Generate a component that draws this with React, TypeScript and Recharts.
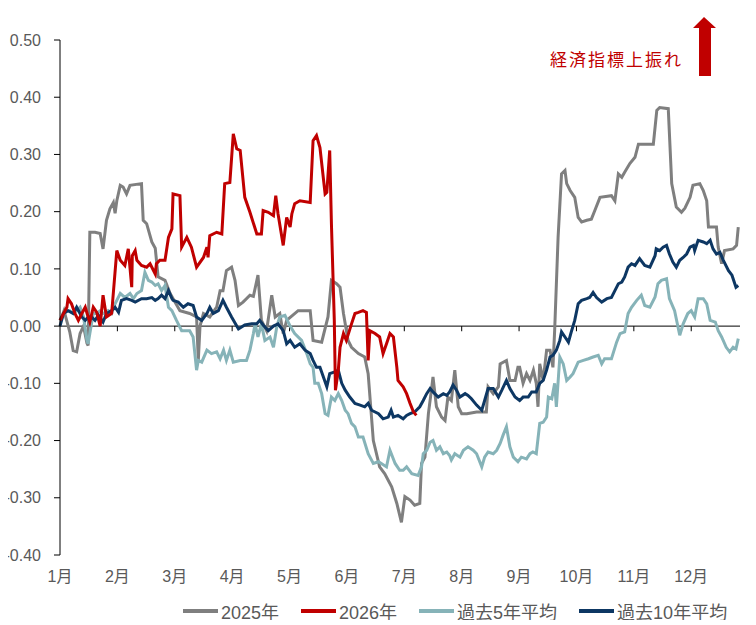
import { Line, LineChart, ReferenceLine, XAxis, YAxis } from 'recharts'

// x = month position (1 = 1月, 12 = 12月), y = surprise index
const s2025: [number, number][] = [
  [1.0, 0.01], [1.03, 0.016], [1.07, 0.027], [1.17, -0.01], [1.23, -0.043], [1.29, -0.045],
  [1.35, -0.013], [1.41, 0.0], [1.47, -0.03], [1.49, -0.034], [1.52, 0.164], [1.61, 0.164],
  [1.7, 0.162], [1.75, 0.135], [1.81, 0.185], [1.87, 0.205], [1.93, 0.216], [1.96, 0.197],
  [1.99, 0.219], [2.05, 0.246], [2.1, 0.243], [2.16, 0.231], [2.22, 0.246], [2.42, 0.249],
  [2.45, 0.185], [2.51, 0.179], [2.6, 0.147], [2.66, 0.136], [2.71, 0.086], [2.83, 0.08],
  [2.92, 0.057], [3.09, 0.027], [3.26, 0.022], [3.38, 0.016], [3.41, -0.06], [3.44, 0.0],
  [3.5, 0.022], [3.61, 0.016], [3.73, 0.033], [3.79, 0.062], [3.84, 0.062], [3.9, 0.097],
  [3.99, 0.103], [4.05, 0.08], [4.11, 0.036], [4.19, 0.042], [4.31, 0.054], [4.37, 0.052],
  [4.45, 0.089], [4.51, 0.01], [4.6, -0.008], [4.69, 0.054], [4.75, 0.016], [4.83, 0.022],
  [4.89, -0.013], [4.95, 0.01], [5.15, 0.027], [5.36, 0.027], [5.41, -0.025], [5.56, -0.028],
  [5.67, 0.016], [5.73, 0.08], [5.82, 0.074], [5.88, 0.068], [5.94, 0.022], [6.02, -0.025],
  [6.08, -0.037], [6.2, -0.048], [6.31, -0.054], [6.37, -0.083], [6.46, -0.2], [6.57, -0.246],
  [6.66, -0.258], [6.78, -0.281], [6.87, -0.31], [6.95, -0.343], [7.01, -0.298], [7.1, -0.304],
  [7.18, -0.313], [7.27, -0.31], [7.3, -0.24], [7.36, -0.229], [7.42, -0.153], [7.48, -0.106],
  [7.5, -0.089], [7.56, -0.141], [7.65, -0.159], [7.71, -0.165], [7.76, -0.124], [7.82, -0.13],
  [7.88, -0.077], [7.94, -0.141], [8.0, -0.153], [8.09, -0.153], [8.26, -0.15], [8.43, -0.15],
  [8.46, -0.106], [8.55, -0.118], [8.64, -0.106], [8.67, -0.066], [8.78, -0.06], [8.84, -0.095],
  [8.93, -0.095], [8.98, -0.072], [9.01, -0.072], [9.07, -0.1], [9.13, -0.083], [9.19, -0.095],
  [9.25, -0.077], [9.3, -0.1], [9.33, -0.141], [9.36, -0.066], [9.42, -0.095], [9.48, -0.042],
  [9.54, -0.042], [9.59, -0.072], [9.62, -0.008], [9.68, 0.155], [9.74, 0.266], [9.8, 0.272],
  [9.83, 0.249], [9.89, 0.237], [9.97, 0.225], [10.03, 0.19], [10.09, 0.182], [10.18, 0.185],
  [10.26, 0.187], [10.32, 0.202], [10.41, 0.225], [10.61, 0.228], [10.67, 0.219], [10.73, 0.266],
  [10.79, 0.26], [10.84, 0.269], [10.93, 0.284], [11.02, 0.295], [11.08, 0.318], [11.34, 0.318],
  [11.4, 0.377], [11.45, 0.382], [11.6, 0.38], [11.66, 0.249], [11.74, 0.208], [11.83, 0.199],
  [11.89, 0.206], [11.98, 0.225], [12.03, 0.246], [12.15, 0.249], [12.21, 0.237], [12.27, 0.219],
  [12.3, 0.173], [12.44, 0.173], [12.47, 0.138], [12.53, 0.109], [12.58, 0.132], [12.73, 0.135],
  [12.79, 0.141], [12.82, 0.173],
]

const s2026: [number, number][] = [
  [1.0, 0.01], [1.03, 0.016], [1.12, 0.033], [1.14, 0.048], [1.2, 0.039], [1.26, 0.022],
  [1.32, 0.01], [1.38, 0.022], [1.44, 0.033], [1.49, 0.016], [1.52, 0.007], [1.58, 0.033],
  [1.64, 0.024], [1.7, 0.0], [1.75, 0.054], [1.81, 0.016], [1.9, 0.022], [1.99, 0.132],
  [2.05, 0.115], [2.13, 0.106], [2.19, 0.135], [2.25, 0.068], [2.26, 0.123], [2.31, 0.132],
  [2.34, 0.115], [2.42, 0.106], [2.51, 0.103], [2.57, 0.109], [2.66, 0.091], [2.68, 0.109],
  [2.74, 0.115], [2.83, 0.115], [2.89, 0.155], [2.95, 0.17], [2.97, 0.231], [3.09, 0.228],
  [3.12, 0.138], [3.21, 0.155], [3.29, 0.138], [3.38, 0.103], [3.5, 0.12], [3.56, 0.138],
  [3.58, 0.12], [3.61, 0.158], [3.73, 0.164], [3.82, 0.161], [3.87, 0.249], [3.96, 0.251],
  [4.02, 0.336], [4.08, 0.31], [4.14, 0.307], [4.22, 0.225], [4.31, 0.199], [4.43, 0.161],
  [4.51, 0.161], [4.54, 0.202], [4.63, 0.199], [4.72, 0.193], [4.76, 0.228], [4.8, 0.196],
  [4.89, 0.141], [4.95, 0.19], [5.01, 0.173], [5.04, 0.196], [5.09, 0.214], [5.18, 0.219],
  [5.36, 0.216], [5.41, 0.324], [5.47, 0.333], [5.53, 0.312], [5.62, 0.231], [5.65, 0.234],
  [5.7, 0.307], [5.73, 0.179], [5.78, 0.01], [5.8, -0.112], [5.85, -0.077], [5.88, -0.037],
  [5.94, -0.013], [5.99, -0.025], [6.08, 0.004], [6.14, 0.022], [6.2, 0.024], [6.28, 0.027],
  [6.34, 0.024], [6.37, -0.06], [6.4, -0.008], [6.49, -0.013], [6.57, -0.019], [6.63, -0.048],
  [6.69, -0.031], [6.75, -0.013], [6.81, -0.019], [6.87, -0.072], [6.89, -0.095], [6.98, -0.106],
  [7.04, -0.118], [7.1, -0.135], [7.16, -0.15], [7.21, -0.156],
]

const avg5: [number, number][] = [
  [1.0, 0.01], [1.03, 0.013], [1.09, 0.027], [1.17, 0.027], [1.23, 0.022], [1.29, 0.027],
  [1.35, 0.033], [1.41, 0.016], [1.47, -0.025], [1.49, -0.031], [1.52, -0.013], [1.58, 0.022],
  [1.64, 0.022], [1.7, 0.027], [1.75, 0.022], [1.84, 0.027], [1.9, 0.022], [1.96, 0.039],
  [2.05, 0.057], [2.13, 0.05], [2.22, 0.057], [2.28, 0.048], [2.34, 0.057], [2.42, 0.062],
  [2.48, 0.094], [2.54, 0.08], [2.6, 0.077], [2.66, 0.071], [2.71, 0.074], [2.77, 0.062],
  [2.83, 0.071], [2.89, 0.033], [2.95, 0.027], [3.03, 0.01], [3.12, -0.008], [3.26, -0.008],
  [3.32, -0.019], [3.38, -0.077], [3.41, -0.06], [3.47, -0.063], [3.56, -0.042], [3.64, -0.048],
  [3.73, -0.045], [3.79, -0.057], [3.85, -0.042], [3.9, -0.06], [3.96, -0.042], [4.02, -0.063],
  [4.14, -0.06], [4.25, -0.06], [4.31, -0.042], [4.37, -0.013], [4.4, 0.004], [4.45, -0.019],
  [4.51, 0.004], [4.57, -0.025], [4.66, -0.019], [4.72, -0.037], [4.78, 0.0], [4.83, 0.016],
  [4.92, 0.019], [5.01, 0.0], [5.09, -0.013], [5.21, -0.025], [5.3, -0.048], [5.36, -0.066],
  [5.41, -0.072], [5.44, -0.1], [5.5, -0.1], [5.56, -0.118], [5.62, -0.153], [5.67, -0.156],
  [5.73, -0.124], [5.79, -0.13], [5.85, -0.118], [5.91, -0.13], [5.97, -0.147], [6.02, -0.153],
  [6.08, -0.17], [6.14, -0.176], [6.2, -0.194], [6.28, -0.194], [6.37, -0.223], [6.46, -0.24],
  [6.55, -0.237], [6.6, -0.24], [6.69, -0.246], [6.75, -0.217], [6.84, -0.24], [6.92, -0.252],
  [6.98, -0.252], [7.04, -0.246], [7.13, -0.258], [7.24, -0.261], [7.3, -0.246], [7.33, -0.223],
  [7.39, -0.217], [7.45, -0.203], [7.5, -0.2], [7.56, -0.217], [7.62, -0.211], [7.68, -0.223],
  [7.74, -0.22], [7.79, -0.226], [7.82, -0.234], [7.88, -0.223], [7.97, -0.229], [8.03, -0.217],
  [8.11, -0.211], [8.2, -0.217], [8.26, -0.223], [8.35, -0.246], [8.4, -0.229], [8.46, -0.22],
  [8.55, -0.223], [8.61, -0.217], [8.67, -0.205], [8.72, -0.191], [8.78, -0.176], [8.84, -0.211],
  [8.9, -0.229], [8.98, -0.237], [9.04, -0.229], [9.13, -0.232], [9.19, -0.223], [9.24, -0.22],
  [9.3, -0.223], [9.36, -0.17], [9.42, -0.168], [9.48, -0.159], [9.51, -0.124], [9.57, -0.127],
  [9.62, -0.1], [9.65, -0.141], [9.71, -0.054], [9.77, -0.066], [9.83, -0.095], [9.89, -0.089],
  [9.94, -0.083], [10.03, -0.063], [10.12, -0.06], [10.21, -0.057], [10.29, -0.054], [10.38, -0.051],
  [10.44, -0.066], [10.49, -0.057], [10.61, -0.057], [10.7, -0.028], [10.76, -0.013], [10.84, -0.01],
  [10.9, 0.022], [10.96, 0.033], [11.05, 0.045], [11.13, 0.054], [11.19, 0.036], [11.28, 0.033],
  [11.37, 0.051], [11.42, 0.074], [11.48, 0.08], [11.57, 0.083], [11.62, 0.048], [11.71, 0.027],
  [11.8, -0.016], [11.86, 0.004], [11.94, 0.022], [12.0, 0.027], [12.06, 0.016], [12.12, 0.048],
  [12.21, 0.048], [12.27, 0.039], [12.33, 0.01], [12.42, 0.007], [12.47, -0.008], [12.53, -0.019],
  [12.61, -0.037], [12.67, -0.045], [12.73, -0.037], [12.78, -0.04], [12.82, -0.022],
]

const avg10: [number, number][] = [
  [1.0, 0.0], [1.06, 0.022], [1.14, 0.027], [1.23, 0.022], [1.29, 0.033], [1.38, 0.016],
  [1.44, 0.01], [1.49, 0.016], [1.55, 0.016], [1.61, 0.01], [1.67, 0.019], [1.75, 0.007],
  [1.81, 0.022], [1.9, 0.027], [1.96, 0.033], [2.02, 0.024], [2.07, 0.045], [2.16, 0.048],
  [2.25, 0.045], [2.31, 0.042], [2.42, 0.048], [2.51, 0.048], [2.6, 0.05], [2.66, 0.045],
  [2.71, 0.048], [2.77, 0.054], [2.83, 0.048], [2.89, 0.062], [2.95, 0.048], [2.97, 0.045],
  [3.06, 0.042], [3.15, 0.033], [3.23, 0.039], [3.32, 0.036], [3.38, 0.016], [3.47, 0.01],
  [3.56, 0.022], [3.61, 0.033], [3.67, 0.022], [3.76, 0.027], [3.84, 0.045], [3.9, 0.033],
  [3.99, 0.016], [4.08, 0.0], [4.11, -0.005], [4.22, 0.002], [4.34, 0.004], [4.43, 0.004],
  [4.48, 0.01], [4.54, 0.002], [4.63, -0.008], [4.72, 0.0], [4.8, 0.004], [4.89, -0.008],
  [4.95, -0.031], [5.01, -0.025], [5.09, -0.037], [5.18, -0.031], [5.27, -0.042], [5.36, -0.048],
  [5.41, -0.06], [5.47, -0.072], [5.53, -0.072], [5.59, -0.089], [5.65, -0.106], [5.7, -0.083],
  [5.79, -0.08], [5.85, -0.077], [5.91, -0.1], [5.97, -0.112], [6.05, -0.124], [6.14, -0.135],
  [6.23, -0.138], [6.31, -0.141], [6.37, -0.135], [6.43, -0.147], [6.55, -0.153], [6.63, -0.162],
  [6.72, -0.159], [6.77, -0.147], [6.81, -0.159], [6.89, -0.156], [6.98, -0.162], [7.04, -0.156],
  [7.1, -0.153], [7.18, -0.15], [7.27, -0.141], [7.33, -0.13], [7.39, -0.118], [7.45, -0.109],
  [7.5, -0.115], [7.59, -0.124], [7.68, -0.118], [7.74, -0.121], [7.79, -0.115], [7.85, -0.103],
  [7.91, -0.112], [7.97, -0.124], [8.06, -0.118], [8.11, -0.121], [8.17, -0.127], [8.26, -0.138],
  [8.35, -0.147], [8.4, -0.13], [8.46, -0.109], [8.55, -0.109], [8.64, -0.124], [8.7, -0.112],
  [8.78, -0.095], [8.84, -0.109], [8.93, -0.124], [9.01, -0.13], [9.07, -0.124], [9.16, -0.124],
  [9.22, -0.115], [9.3, -0.115], [9.36, -0.1], [9.42, -0.095], [9.48, -0.077], [9.54, -0.054],
  [9.59, -0.051], [9.65, -0.042], [9.71, -0.025], [9.74, -0.01], [9.8, -0.019], [9.86, -0.028],
  [9.91, -0.01], [9.97, 0.01], [10.03, 0.039], [10.09, 0.045], [10.18, 0.048], [10.23, 0.05],
  [10.29, 0.059], [10.35, 0.05], [10.44, 0.042], [10.53, 0.048], [10.61, 0.05], [10.67, 0.062],
  [10.73, 0.074], [10.79, 0.077], [10.84, 0.086], [10.9, 0.103], [10.96, 0.109], [11.02, 0.106],
  [11.1, 0.118], [11.19, 0.106], [11.28, 0.103], [11.37, 0.123], [11.39, 0.135], [11.45, 0.132],
  [11.51, 0.138], [11.57, 0.141], [11.62, 0.126], [11.68, 0.112], [11.74, 0.103], [11.8, 0.115],
  [11.86, 0.12], [11.92, 0.126], [11.98, 0.138], [12.04, 0.141], [12.06, 0.132], [12.12, 0.15],
  [12.21, 0.147], [12.27, 0.144], [12.33, 0.15], [12.38, 0.135], [12.44, 0.126], [12.5, 0.129],
  [12.56, 0.115], [12.65, 0.097], [12.71, 0.089], [12.78, 0.068], [12.82, 0.071],
]

const monthTicks = [1, 2, 3, 4, 5, 6, 7, 8, 9, 10, 11, 12]
const yTicks = [-0.4, -0.3, -0.2, -0.1, 0, 0.1, 0.2, 0.3, 0.4, 0.5]

const series = [
  { name: '2025年', color: '#7f7f7f', points: s2025 },
  { name: '過去5年平均', color: '#86b3b8', points: avg5 },
  { name: '過去10年平均', color: '#0d3763', points: avg10 },
  { name: '2026年', color: '#c00000', points: s2026 },
]
const legendOrder = ['2025年', '2026年', '過去5年平均', '過去10年平均']

const FONT = '"Liberation Sans", Arial, "Noto Sans CJK JP", sans-serif'
const TEXT = '#595959'

const toRows = (pts: [number, number][]) => pts.map(([x, v]) => ({ x, v }))

export default function App() {
  return (
    <div style={{ position: 'relative', width: 756, height: 612, marginLeft: -8, fontFamily: FONT }}>
      <LineChart width={756} height={612} margin={{ top: 32, right: 16, bottom: 35, left: 0 }}>
        <XAxis
          dataKey="x"
          type="number"
          domain={[1, 12.85]}
          ticks={monthTicks}
          tickFormatter={(m) => `${m}月`}
          axisLine={false}
          tickLine={false}
          tickMargin={10}
          tick={{ fill: TEXT, fontSize: 16 }}
          height={30}
        />
        <YAxis
          type="number"
          domain={[-0.4, 0.5]}
          ticks={yTicks}
          tickFormatter={(v) => Number(v).toFixed(2)}
          width={60}
          stroke="#000"
          tickSize={6}
          tickMargin={13}
          tick={{ fill: TEXT, fontSize: 16 }}
        />
        <ReferenceLine y={0} stroke="#000" strokeWidth={1} />
        {monthTicks.slice(1).map((m) => (
          <ReferenceLine
            key={m}
            segment={[
              { x: m, y: 0 },
              { x: m, y: -0.009 },
            ]}
            stroke="#000"
          />
        ))}
        {series.map((s) => (
          <Line
            key={s.name}
            data={toRows(s.points)}
            dataKey="v"
            name={s.name}
            type="linear"
            stroke={s.color}
            strokeWidth={3}
            dot={false}
            isAnimationActive={false}
          />
        ))}
      </LineChart>

      {/* annotation */}
      <div
        style={{
          position: 'absolute',
          left: 550,
          top: 38,
          color: '#c00000',
          fontSize: 17,
          letterSpacing: 2,
          whiteSpace: 'nowrap',
        }}
      >
        経済指標上振れ
      </div>
      <svg style={{ position: 'absolute', left: 0, top: 0 }} width={756} height={80}>
        <polygon points="704,9 693,20 699,20 699,68 711,68 711,20 716,20" fill="#c00000" />
      </svg>

      {/* legend */}
      <div
        style={{
          position: 'absolute',
          left: 183,
          top: 590,
          display: 'flex',
          gap: 22,
          fontSize: 18,
          color: TEXT,
          whiteSpace: 'nowrap',
        }}
      >
        {legendOrder.map((n) => {
          const s = series.find((x) => x.name === n)!
          return (
            <div key={n} style={{ display: 'flex', alignItems: 'center' }}>
              <span style={{ width: 35, height: 4, background: s.color, marginRight: 3 }} />
              <span>{n}</span>
            </div>
          )
        })}
      </div>
    </div>
  )
}
